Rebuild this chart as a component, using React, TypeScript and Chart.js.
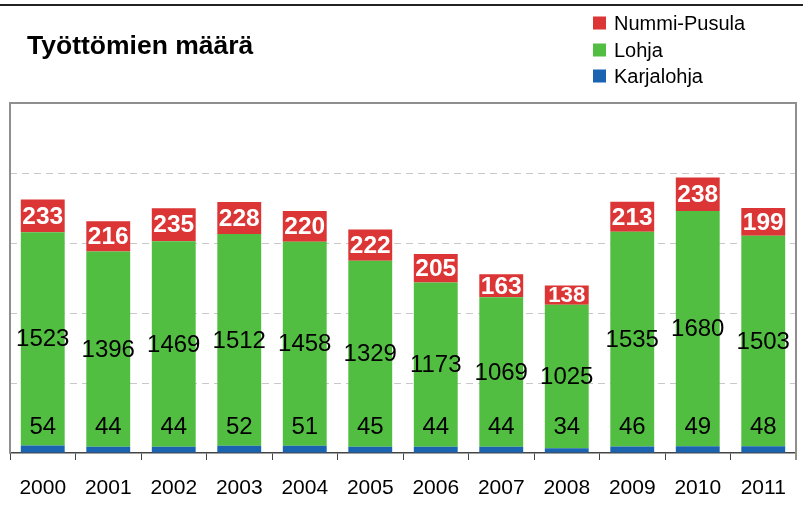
import React, { useEffect, useRef } from "react";
import { Chart, registerables } from "chart.js";

Chart.register(...registerables);

const years = ["2000", "2001", "2002", "2003", "2004", "2005", "2006", "2007", "2008", "2009", "2010", "2011"];
const karjalohja = [54, 44, 44, 52, 51, 45, 44, 44, 34, 46, 49, 48];
const lohja = [1523, 1396, 1469, 1512, 1458, 1329, 1173, 1069, 1025, 1535, 1680, 1503];
const nummiPusula = [233, 216, 235, 228, 220, 222, 205, 163, 138, 213, 238, 199];
const titleText = "Työttömien määrä";

const FONT = '"Liberation Sans", Arial, sans-serif';
const RED = "#db3536";
const GREEN = "#52be41";
const BLUE = "#1a63b0";

const decorPlugin = {
  id: "decor",
  beforeDatasetsDraw(chart: any) {
    const { ctx, chartArea } = chart;
    ctx.save();
    ctx.strokeStyle = "#8f8f8f";
    ctx.lineWidth = 2;
    ctx.beginPath();
    ctx.moveTo(chartArea.left, chartArea.bottom);
    ctx.lineTo(chartArea.left, chartArea.top);
    ctx.lineTo(chartArea.right, chartArea.top);
    ctx.lineTo(chartArea.right, chartArea.bottom + 7);
    ctx.stroke();
    ctx.restore();
  },
  afterDraw(chart: any) {
    const { ctx } = chart;
    ctx.save();
    ctx.strokeStyle = "#222";
    ctx.lineWidth = 2;
    ctx.beginPath();
    ctx.moveTo(0, 5);
    ctx.lineTo(chart.width, 5);
    ctx.stroke();
    ctx.fillStyle = "#000";
    ctx.font = `bold 26.5px ${FONT}`;
    ctx.textAlign = "left";
    ctx.textBaseline = "alphabetic";
    ctx.fillText(titleText, 27, 54);
    const ds = chart.data.datasets;
    const rows = [23, 50, 76];
    ctx.font = `20px ${FONT}`;
    ctx.textBaseline = "middle";
    for (let i = 0; i < ds.length; i++) {
      const d = ds[ds.length - 1 - i];
      const cy = rows[i];
      ctx.fillStyle = d.backgroundColor;
      ctx.fillRect(593, cy - 6.5, 13, 13);
      ctx.fillStyle = "#000";
      ctx.fillText(d.label, 614, cy + 1);
    }
    ctx.restore();
  },
  afterDatasetsDraw(chart: any) {
    const { ctx } = chart;
    ctx.save();
    ctx.textAlign = "center";
    ctx.textBaseline = "middle";
    chart.data.datasets.forEach((d: any, di: number) => {
      const meta = chart.getDatasetMeta(di);
      meta.data.forEach((el: any, i: number) => {
        const v = d.data[i];
        const { x, y, base } = el.getProps(["x", "y", "base"], true);
        if (di === 0) {
          ctx.fillStyle = "#000";
          ctx.font = `24px ${FONT}`;
          ctx.fillText(String(v), x, base - 25);
        } else if (di === 1) {
          ctx.fillStyle = "#000";
          ctx.font = `24px ${FONT}`;
          ctx.fillText(String(v), x, (y + base) / 2 + 1);
        } else {
          const h = Math.abs(base - y);
          const size = Math.min(24.5, h + 3);
          ctx.fillStyle = "#fff";
          ctx.font = `bold ${size}px ${FONT}`;
          ctx.fillText(String(v), x, (y + base) / 2 + 1);
        }
      });
    });
    ctx.restore();
  },
};

export default function App() {
  const ref = useRef<HTMLCanvasElement | null>(null);
  useEffect(() => {
    if (!ref.current) return;
    const chart = new Chart(ref.current, {
      type: "bar",
      data: {
        labels: years,
        datasets: [
          { label: "Karjalohja", data: karjalohja, backgroundColor: BLUE },
          { label: "Lohja", data: lohja, backgroundColor: GREEN },
          { label: "Nummi-Pusula", data: nummiPusula, backgroundColor: RED },
        ],
      },
      options: {
        animation: false,
        responsive: false,
        maintainAspectRatio: false,
        layout: { padding: { left: 10, right: 7, top: 103, bottom: 0 } },
        datasets: { bar: { barPercentage: 0.67, categoryPercentage: 1 } },
        plugins: { legend: { display: false }, title: { display: false }, tooltip: { enabled: false } },
        scales: {
          x: {
            stacked: true,
            grid: { display: true, drawOnChartArea: false, drawTicks: true, tickLength: 7, offset: true, color: "#444", lineWidth: 1 },
            border: { display: true, color: "#444", width: 1.5 },
            ticks: { color: "#000", font: { family: FONT, size: 21 }, padding: 16, maxRotation: 0, autoSkip: false },
            afterFit: (s: any) => {
              s.height = 55;
            },
          },
          y: {
            stacked: true,
            min: 0,
            max: 2500,
            ticks: { display: false, stepSize: 500 },
            grid: {
              drawTicks: false,
              color: (c: any) => (c.tick && c.tick.value > 0 && c.tick.value < 2500 ? "#c8c8c8" : "rgba(0,0,0,0)"),
              lineWidth: 1,
            },
            border: { display: false, dash: [7, 5] },
            afterFit: (s: any) => {
              s.width = 0;
            },
          },
        },
      },
      plugins: [decorPlugin],
    });
    return () => chart.destroy();
  }, []);
  return (
    <div style={{ position: "fixed", left: 0, top: 0, width: 803, height: 508, background: "#fff" }}>
      <canvas ref={ref} width={803} height={508} style={{ display: "block" }} />
    </div>
  );
}
